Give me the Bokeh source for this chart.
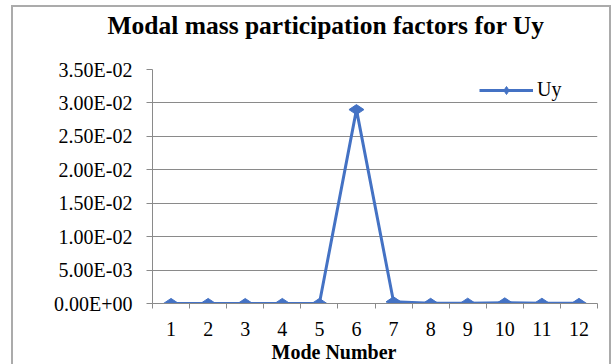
import numpy as np
from bokeh.plotting import figure
from bokeh.models import Range1d, FixedTicker, Legend, LegendItem, Title
from bokeh.embed import file_html
from bokeh.resources import INLINE

# ---- data ----
modes = [1, 2, 3, 4, 5, 6, 7, 8, 9, 10, 11, 12]
uy = [0.00001, 0.00001, 0.00000, 0.00001, 0.00001, 0.0290,
      0.00025, 0.00003, 0.00005, 0.00010, 0.00004, 0.00002]
y_ticks = [0.0, 0.005, 0.010, 0.015, 0.020, 0.025, 0.030, 0.035]
y_tick_labels = ["0.00E+00", "5.00E-03", "1.00E-02", "1.50E-02",
                 "2.00E-02", "2.50E-02", "3.00E-02", "3.50E-02"]
title_text = "Modal mass participation factors for Uy"
x_title = "Mode Number"
series_name = "Uy"

SERIF = "'Liberation Serif', 'Times New Roman', serif"
BLUE = "#4472C4"
GRID = "#8a8a8a"
BORDER = "#ababab"

chart_border = {
    "background-color": "white",
    "background-image": ", ".join(["linear-gradient(%s, %s)" % (BORDER, BORDER)] * 3),
    "background-size": "2px 400px, 599px 2px, 2px 400px",
    "background-position": "11px 5px, 11px 5px, 609px 5px",
    "background-repeat": "no-repeat",
}

p = figure(width=612, height=364, output_backend="svg", toolbar_location=None,
           x_range=Range1d(0.5, 12.5), y_range=Range1d(0, 0.035),
           min_border_left=152, min_border_right=15,
           min_border_top=69, min_border_bottom=61, title=None,
           styles=chart_border)
p.outline_line_color = None
p.background_fill_color = "white"
p.border_fill_alpha = 0

# x axis
xa = p.xaxis[0]
xa.ticker = FixedTicker(ticks=modes, minor_ticks=[m - 0.5 for m in modes] + [12.5])
xa.major_tick_out = 0
xa.major_tick_in = 0
xa.minor_tick_out = 5
xa.minor_tick_in = 0
xa.minor_tick_line_color = GRID
xa.axis_line_color = GRID
xa.major_label_text_font = SERIF
xa.major_label_text_font_size = "20px"
xa.major_label_text_color = "black"
xa.major_label_standoff = 13

# y axis
ya = p.yaxis[0]
ya.ticker = FixedTicker(ticks=y_ticks, minor_ticks=[])
ya.major_label_overrides = {t: s for t, s in zip(y_ticks, y_tick_labels)}
ya.major_tick_out = 6
ya.major_tick_in = 0
ya.major_tick_line_color = GRID
ya.axis_line_color = GRID
ya.major_label_text_font = SERIF
ya.major_label_text_font_size = "20px"
ya.major_label_text_color = "black"
ya.major_label_standoff = 14

p.xgrid.grid_line_color = None
p.ygrid.grid_line_color = GRID
p.ygrid.grid_line_width = 1
p.ygrid.ticker = FixedTicker(ticks=y_ticks)

ln = p.line(modes, uy, line_color=BLUE, line_width=3)
mk = p.scatter(modes, uy, marker="diamond", angle=np.pi / 2, size=15,
               fill_color=BLUE, line_color=BLUE)

legend = Legend(items=[LegendItem(label=series_name, renderers=[ln, mk])],
                location=(327, 202), padding=0, margin=0, spacing=0,
                glyph_width=54, glyph_height=20, label_standoff=4,
                label_text_font=SERIF, label_text_font_size="20px",
                label_text_color="black",
                border_line_color=None, background_fill_alpha=0)
p.add_layout(legend)

# spacer between the plot frame and the chart title
p.add_layout(Title(text=" ", text_font_size="1px", standoff=20), "above")
p.add_layout(Title(text=title_text, text_font=SERIF, text_font_size="25.5px",
                   text_font_style="bold", text_color="black", align="left",
                   offset=-45, vertical_align="top", standoff=10), "above")
p.add_layout(Title(text=x_title, text_font=SERIF, text_font_size="20px",
                   text_font_style="bold", text_color="black", align="left",
                   offset=119, standoff=0), "below")

open("out.html", "w").write(file_html(p, INLINE))
